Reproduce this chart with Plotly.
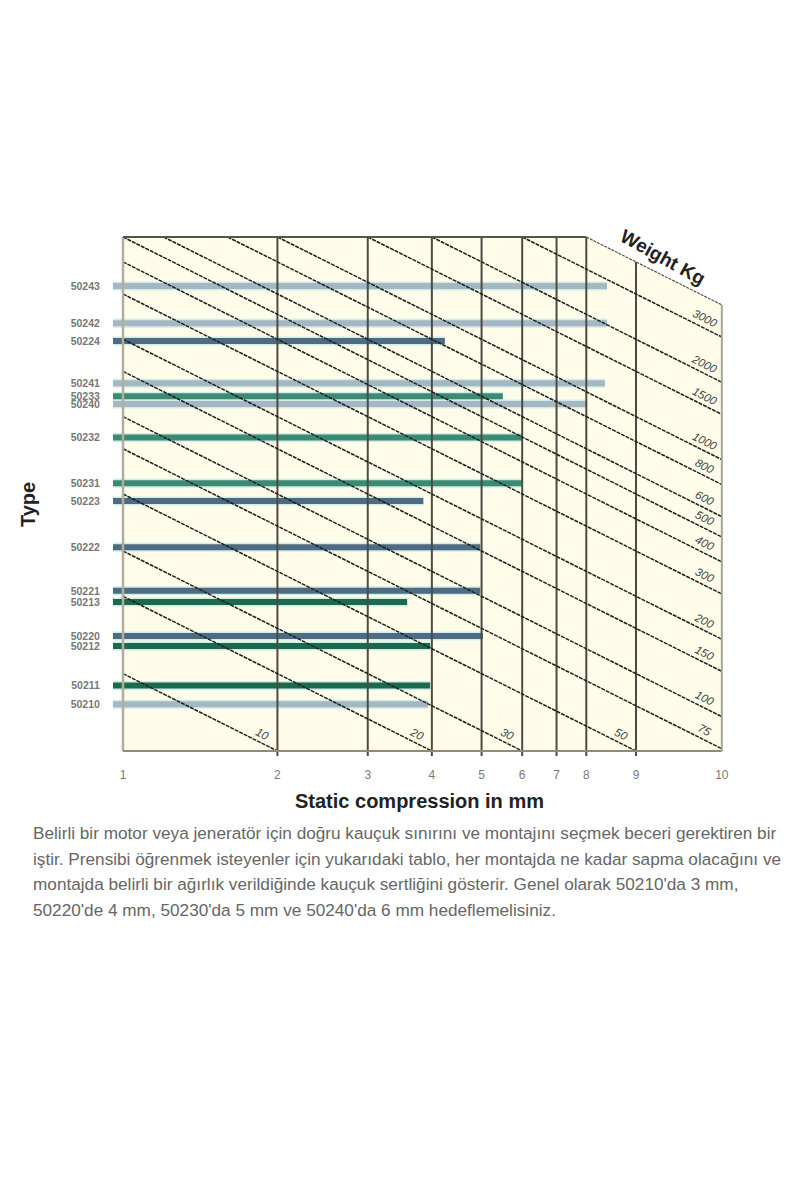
import numpy as np
import plotly.graph_objects as go

# ---------------- data ----------------
types = ["50243", "50242", "50224", "50241", "50233", "50240", "50232", "50231",
         "50223", "50222", "50221", "50213", "50220", "50212", "50211", "50210"]
# row position of each type on the (log) stiffness scale, kg per mm
stiffness = [322, 231, 197, 135, 120, 112, 83, 55, 47, 31, 21, 19, 14, 12.8, 9.0, 7.6]
# end of each bar: static compression in mm
max_compression = [8.78, 8.78, 4.24, 8.70, 5.50, 8.03, 6.0, 6.0,
                   3.85, 4.97, 4.97, 3.58, 5.03, 3.97, 3.97, 3.93]
groups = ["light", "light", "slate", "light", "teal", "light", "teal", "teal",
          "slate", "slate", "slate", "green", "slate", "green", "green", "light"]
bar_start = 0.956

weights = [10, 20, 30, 50, 75, 100, 150, 200, 300, 400, 500, 600, 800,
           1000, 1500, 2000, 3000]
grid_x = [2, 3, 4, 5, 6, 7, 8, 10]
x_tick_vals = [1, 2, 3, 4, 5, 6, 7, 8, 10, 14.7]
x_tick_text = ["1", "2", "3", "4", "5", "6", "7", "8", "9", "10"]
k_min, k_max = 5, 500
x_min, x_box, x_max = 1, 8, 14.7

paragraph = [
    "Belirli bir motor veya jeneratör için doğru kauçuk sınırını ve montajını seçmek beceri gerektiren bir",
    "iştir. Prensibi öğrenmek isteyenler için yukarıdaki tablo, her montajda ne kadar sapma olacağını ve",
    "montajda belirli bir ağırlık verildiğinde kauçuk sertliğini gösterir. Genel olarak 50210'da 3 mm,",
    "50220'de 4 mm, 50230'da 5 mm ve 50240'da 6 mm hedeflemelisiniz.",
]

colors = {"light": "#a7b6c3", "slate": "#4f6b81", "teal": "#3d8a72", "green": "#1c6a4c"}
halo = "#cdeeea"

# ---------------- layout geometry (page pixels) ----------------
OFF = 8                      # page body margin
W, H = 800 - OFF, 1200 - OFF
L, R, T, B = 108, 735, 225, 762
X0PX, XDEC = 123, 513        # pixel of x=1, pixels per decade
YBOT, YDEC = 751, 257        # pixel of k=5, pixels per decade

xr = [(L - X0PX) / XDEC, (R - X0PX) / XDEC]
yr = [np.log10(k_min) - (B - YBOT) / YDEC, np.log10(k_min) + (YBOT - T) / YDEC]


def px_x(p):
    return (p - L) / (R - L)


def px_y(p):
    return (B - p) / (B - T)


fig = go.Figure()

# cream background of the chart and the perspective panel
w_top = x_box * k_max
fig.add_trace(go.Scatter(
    x=[x_min, x_max, x_max, x_box, x_min, x_min],
    y=[k_min, k_min, w_top / x_max, k_max, k_max, k_min],
    fill="toself", fillcolor="#fffde9", mode="lines",
    line=dict(width=0), hoverinfo="skip", showlegend=False))

# bars
for t, k, xe, g in zip(types, stiffness, max_compression, groups):
    fig.add_trace(go.Scatter(x=[bar_start, xe], y=[k, k], mode="lines",
                             line=dict(color=halo, width=9), hoverinfo="skip",
                             showlegend=False))
for t, k, xe, g in zip(types, stiffness, max_compression, groups):
    fig.add_trace(go.Scatter(x=[bar_start, xe], y=[k, k], mode="lines",
                             line=dict(color=colors[g], width=6), name=t,
                             showlegend=False))

# vertical grid lines
k_tick = k_min * 10 ** (-5 / YDEC)
for gx in grid_x:
    top = k_max if gx <= x_box else w_top / gx
    fig.add_trace(go.Scatter(x=[gx, gx], y=[k_tick, top], mode="lines",
                             line=dict(color="#4d4a40", width=2),
                             hoverinfo="skip", showlegend=False))

# weight lines
wx, wy = [], []
for w in weights:
    xa = max(x_min, w / k_max)
    xb = min(x_max, w / k_min)
    wx += [xa, xb, None]
    wy += [w / xa, w / xb, None]
fig.add_trace(go.Scatter(x=wx, y=wy, mode="lines",
                         line=dict(color="#1e1e1e", width=1.5, dash="4px,1px"),
                         hoverinfo="skip", showlegend=False))

# frame
fig.add_trace(go.Scatter(x=[x_min, x_min], y=[k_min, k_max], mode="lines",
                         line=dict(color="#b3ad9b", width=2.5), hoverinfo="skip", showlegend=False))
fig.add_trace(go.Scatter(x=[x_min, x_max], y=[k_min, k_min], mode="lines",
                         line=dict(color="#8e8a7c", width=2), hoverinfo="skip", showlegend=False))
fig.add_trace(go.Scatter(x=[x_max, x_max], y=[k_min, w_top / x_max], mode="lines",
                         line=dict(color="#a9a597", width=2), hoverinfo="skip", showlegend=False))
fig.add_trace(go.Scatter(x=[x_min, x_box], y=[k_max, k_max], mode="lines",
                         line=dict(color="#57544a", width=1.8), hoverinfo="skip", showlegend=False))
fig.add_trace(go.Scatter(x=[x_box, x_max], y=[k_max, w_top / x_max], mode="lines",
                         line=dict(color="#57544a", width=1.2, dash="3px,1px"),
                         hoverinfo="skip", showlegend=False))

annotations = []
# weight labels
for w in weights:
    xl = min(13.6, w / k_min * 0.935)
    annotations.append(dict(
        x=np.log10(xl), y=np.log10(w / xl), xref="x", yref="y",
        xanchor="center", yanchor="middle",
        text="<i>%d</i>" % w, showarrow=False, textangle=27, yshift=10,
        font=dict(family="Liberation Sans", size=11.5, color="#444")))

annotations.append(dict(
    x=np.log10(11.3), y=np.log10(w_top / 11.3), xref="x", yref="y",
    xanchor="center", yanchor="middle",
    text="<b>Weight Kg</b>", showarrow=False, textangle=29, yshift=18,
    font=dict(family="Liberation Sans", size=19, color="#222")))

annotations.append(dict(
    x=px_x(28), y=px_y(505), xref="paper", yref="paper", text="<b>Type</b>",
    xanchor="center", yanchor="middle",
    showarrow=False, textangle=-90,
    font=dict(family="Liberation Sans", size=20, color="#222")))

annotations.append(dict(
    x=px_x(419), y=px_y(801), xref="paper", yref="paper",
    xanchor="center", yanchor="middle",
    text="<b>Static compression in mm</b>", showarrow=False,
    font=dict(family="Liberation Sans", size=20, color="#222")))

for i, line in enumerate(paragraph):
    annotations.append(dict(
        x=px_x(31), y=px_y(833 + 25.7 * i), xref="paper", yref="paper",
        xanchor="left", yanchor="middle", text=line, showarrow=False,
        font=dict(family="Liberation Sans", size=17.2, color="#666")))

fig.update_layout(
    width=W, height=H,
    margin=dict(l=L - OFF, r=W - (R - OFF), t=T - OFF, b=H - (B - OFF), pad=0),
    paper_bgcolor="white", plot_bgcolor="white",
    showlegend=False,
    xaxis=dict(type="log", range=xr, showgrid=False, zeroline=False,
               showline=False, tickvals=x_tick_vals, ticktext=x_tick_text,
               ticks="outside", ticklen=2, tickcolor="rgba(0,0,0,0)",
               tickfont=dict(family="Liberation Sans", size=12, color="#7a7a7a")),
    yaxis=dict(type="log", range=yr, showgrid=False, zeroline=False,
               showline=False, tickvals=stiffness, ticktext=types,
               ticks="outside", ticklen=5, tickcolor="rgba(0,0,0,0)",
               tickfont=dict(family="Liberation Sans", size=10.5, color="#777",
                             weight="bold")),
    annotations=annotations,
)

fig.write_html("out.html")
